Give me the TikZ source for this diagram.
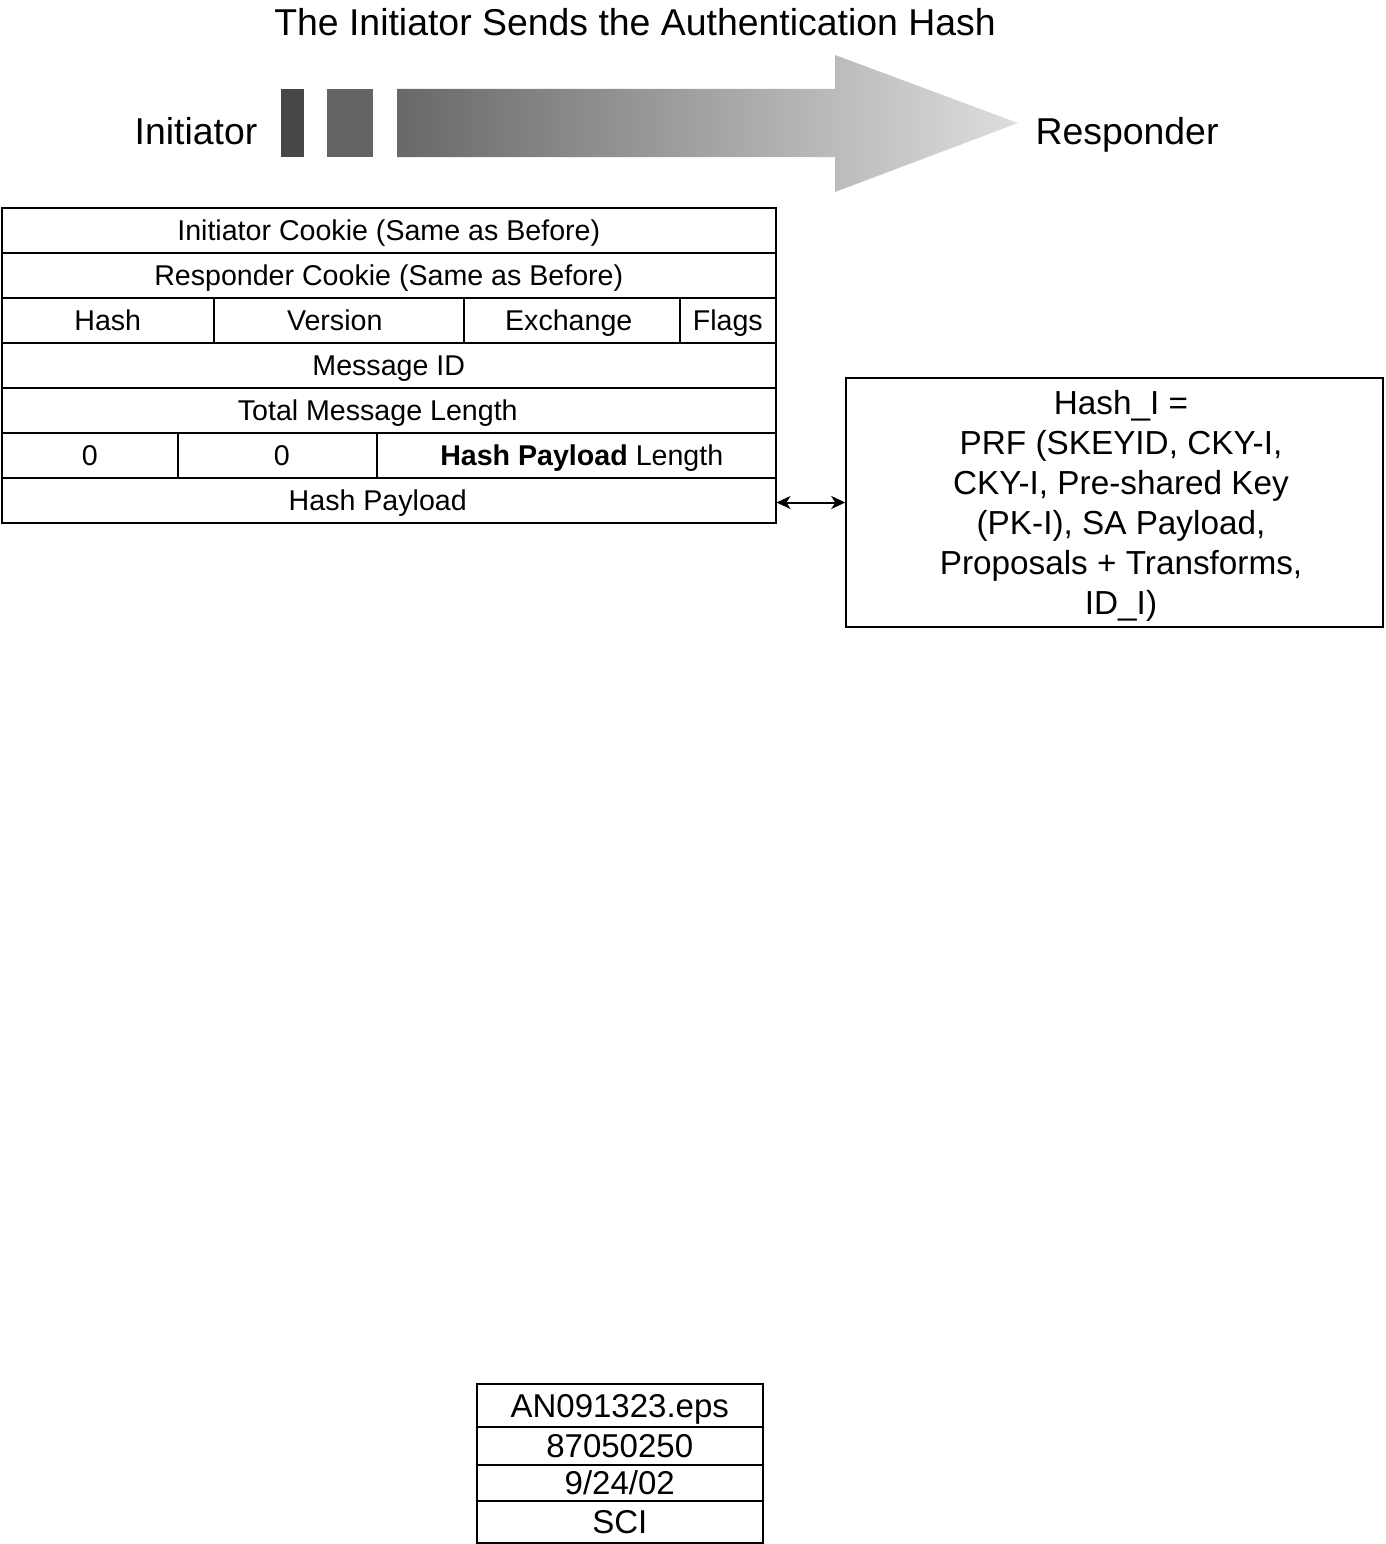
\documentclass[tikz,border=0pt]{standalone}
\usepackage{fontspec}
\setmainfont{Liberation Sans}
\usetikzlibrary{arrows.meta}

\definecolor{barA}{HTML}{474747}
\definecolor{barB}{HTML}{646464}
\definecolor{flowL}{HTML}{686868}
\definecolor{flowR}{HTML}{DEDEDE}

\begin{document}
\begin{tikzpicture}[x=1pt, y=-1pt, line width=1.5pt,
    cell/.style={draw, anchor=north west, inner sep=0pt, minimum height=45pt, text height=20.5pt, text depth=0pt, font=\fontsize{28.6}{32}\selectfont},
    big/.style={inner sep=0pt, text height=26.8pt, text depth=0pt, font=\fontsize{37.4}{42}\selectfont},
    note/.style={draw, inner sep=0pt, align=center, font=\fontsize{33.3}{40}\selectfont},
    tag/.style={draw, anchor=north west, inner sep=0pt, minimum width=286pt, text height=23.7pt, text depth=0pt, font=\fontsize{33}{38}\selectfont}]

    \useasboundingbox (0,0) rectangle (1385,1544);

    % banner
    \node[big] (title) at (635,22) {The Initiator Sends the Authentication Hash};
    \node[big] (init) at (196,131) {Initiator};
    \node[big] (resp) at (1127,131) {Responder};
    \fill[barA] (281,89) rectangle (304,157);
    \fill[barB] (327,89) rectangle (373,157);
    \shade[left color=flowL, right color=flowR]
        (397,89) -- (835,89) -- (835,55) -- (1018,123) -- (835,192) -- (835,157) -- (397,157) -- cycle;

    % header fields
    \node[cell, minimum width=774pt] (icky) at (1,207) {Initiator Cookie (Same as Before)};
    \node[cell, minimum width=774pt] (rcky) at (1,252) {Responder Cookie (Same as Before)};
    \node[cell, minimum width=212pt] (hash) at (1,297) {Hash};
    \node[cell, minimum width=250pt] (ver) at (213,297) {Version\kern8pt};
    \node[cell, minimum width=216pt] (exch) at (463,297) {Exchange\kern6pt};
    \node[cell, minimum width=96pt] (flags) at (679,297) {Flags};
    \node[cell, minimum width=774pt] (msgid) at (1,342) {Message ID};
    \node[cell, minimum width=774pt] (total) at (1,387) {Total Message Length\kern22pt};
    \node[cell, minimum width=176pt] (zeroA) at (1,432) {0};
    \node[cell, minimum width=199pt] (zeroB) at (177,432) {\kern9pt 0};
    \node[cell, minimum width=399pt] (hplen) at (376,432) {\kern11pt\textbf{Hash Payload} Length};
    \node[cell, minimum width=774pt] (hp) at (1,477) {Hash Payload\kern22pt};

    % hash formula
    \node[note, minimum width=537pt, minimum height=249pt] (hashI) at (1114.5,502.5) {};
    \node[note, draw=none] (hashItext) at (1121,506)
        {Hash\_I =\\PRF (SKEYID, CKY-I,\\CKY-I, Pre-shared Key\\(PK-I), SA Payload,\\Proposals + Transforms,\\ID\_I)};
    \draw[{Stealth[length=14pt,width=13pt,inset=4pt]}-{Stealth[length=14pt,width=13pt,inset=4pt]}, line width=2pt]
        (hp.east |- hashI.west) -- (hashI.west);

    % file tag
    \node[tag, minimum height=43pt] (file) at (476,1383) {AN091323.eps};
    \node[tag, minimum height=38pt] (num) at (476,1426) {87050250};
    \node[tag, minimum height=36pt] (date) at (476,1464) {9/24/02};
    \node[tag, minimum height=42pt] (sci) at (476,1500) {SCI};
\end{tikzpicture}
\end{document}
